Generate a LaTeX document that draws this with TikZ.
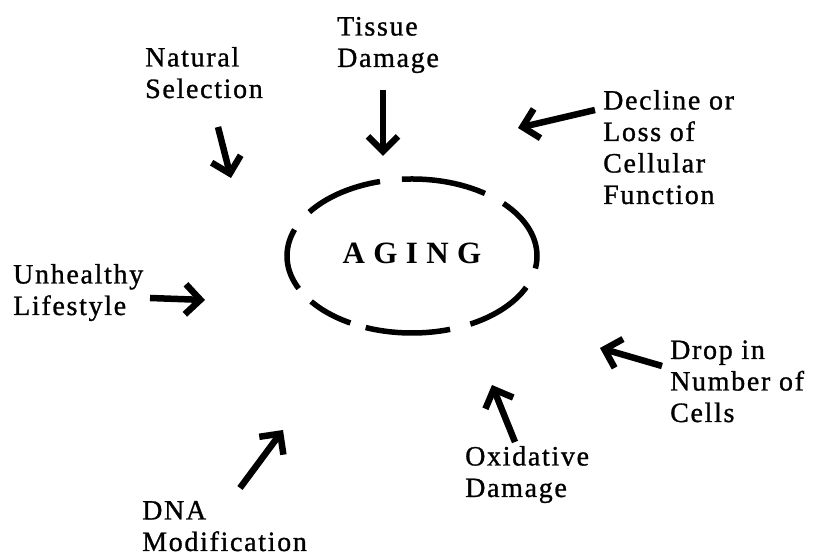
\documentclass[tikz,border=0pt]{standalone}
\usepackage{fontspec}
\setmainfont{Liberation Serif}
\newfontfamily\lblfont[LetterSpace=6, FakeBold=1]{Liberation Serif}
\newfontfamily\agingfont[LetterSpace=27]{Liberation Serif}
\usetikzlibrary{shapes.geometric, arrows.meta}

\begin{document}
\begin{tikzpicture}[
    x=1pt, y=1pt,
    lbl/.style={anchor=base west, align=left, inner sep=0pt, font=\lblfont\fontsize{28}{31.5}\selectfont},
    arr/.style={line width=6.5pt, -{Straight Barb[length=15pt, width=30pt]}},
    ring/.style={ellipse, draw, line width=5.5pt, inner sep=0pt,
        minimum width=250pt, minimum height=154pt, text depth=6pt,
        dash pattern=on 77pt off 21pt on 85pt off 22pt on 78pt off 23pt on 63pt off 18pt on 45pt off 16pt on 85pt off 21pt on 68pt off 21pt,
        dash phase=12pt, font=\agingfont\bfseries\fontsize{31}{31}\selectfont},
]
\useasboundingbox (0,0) rectangle (823,556);

% ---- centre ----
\node[ring] (aging) at (412,300) {AGING};

% ---- causes (base = last line) ----
\node[lbl] (sel) at (145,458) {Natural\\Selection};
\node[lbl] (tis) at (337,489) {Tissue\\Damage};
\node[lbl] (dec) at (603,352) {Decline or\\Loss of\\Cellular\\Function};
\node[lbl] (unh) at (13,241) {Unhealthy\\Lifestyle};
\node[lbl] (drp) at (670,134) {Drop in\\Number of\\Cells};
\node[lbl] (oxi) at (465,59) {Oxidative\\Damage};
\node[lbl] (dna) at (142,5) {DNA\\Modification};

% arrow ends
\coordinate (sel-a) at (218,429); \coordinate (sel-b) at (231,378);
\coordinate (tis-a) at (383,466); \coordinate (tis-b) at (383,400);
\coordinate (dec-a) at (595,446); \coordinate (dec-b) at (518,428);
\coordinate (unh-a) at (150,258); \coordinate (unh-b) at (205,256);
\coordinate (drp-a) at (662,190); \coordinate (drp-b) at (600,208);
\coordinate (oxi-a) at (515,114); \coordinate (oxi-b) at (492,171);
\coordinate (dna-a) at (240,68);  \coordinate (dna-b) at (283,126);

% ---- arrows ----
\foreach \c in {sel, tis, dec, unh, drp, oxi, dna}
  \draw[arr] (\c-a) -- (\c-b);

\end{tikzpicture}
\end{document}
